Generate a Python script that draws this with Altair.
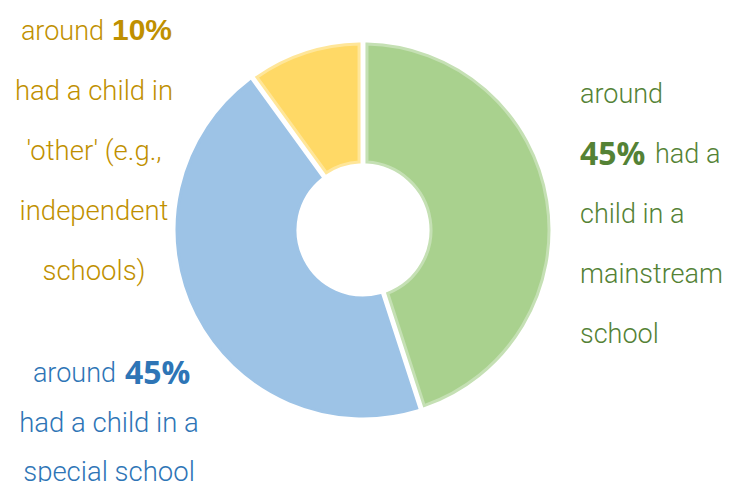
import altair as alt
import pandas as pd

# ---- data ----
categories = ["mainstream school", "special school", "other"]
values = [45, 45, 10]
fills = ["#a9d18e", "#9dc3e6", "#ffd966"]
rims = ["#c5e0b4", "#9dc3e6", "#ffe699"]

gold_lines = ["had a child in", "'other' (e.g.,", "independent", "schools)"]
green_lines = ["child in a", "mainstream", "school"]
blue_lines = ["had a child in a", "special school"]

GOLD = "#bf9000"
GREEN = "#548235"
BLUE = "#2e75b6"
FONT = "Roboto"
BOLD_FONT = "Open Sans"

df = pd.DataFrame({"category": categories, "value": values, "order": list(range(len(categories)))})

donut = alt.Chart(df).mark_arc(
    outerRadius=186, innerRadius=68, padAngle=0.04, strokeWidth=3
).encode(
    theta=alt.Theta("value:Q", stack=True),
    order=alt.Order("order:Q"),
    color=alt.Color("category:N", scale=alt.Scale(domain=categories, range=fills), legend=None),
    stroke=alt.Stroke("category:N", scale=alt.Scale(domain=categories, range=rims), legend=None),
    x=alt.value(363),
    y=alt.value(230),
)

one = pd.DataFrame({"k": [0]})


def txt(s, x, y, color, size=27, align="left", font=FONT, weight=300):
    return alt.Chart(one).mark_text(
        text=s, align=align, baseline="alphabetic", font=font, fontSize=size,
        fontWeight=weight, color=color
    ).encode(x=alt.value(x), y=alt.value(y))


layers = [donut]

# gold block (other)
layers.append(txt("around", 104, 40, GOLD, align="right"))
layers.append(txt(f"{values[2]}%", 112, 40, GOLD, size=30, font="Liberation Sans", weight="bold"))
for i, s in enumerate(gold_lines):
    layers.append(txt(s, 94, 100 + 60 * i, GOLD, align="center", size=27.5))

# green block (mainstream)
layers.append(txt("around", 580, 103, GREEN))
layers.append(txt(f"{values[0]}%", 580, 165, GREEN, size=32, font=BOLD_FONT, weight="bold"))
layers.append(txt("had a", 655, 163, GREEN))
for i, s in enumerate(green_lines):
    layers.append(txt(s, 580, 223 + 60 * i, GREEN))

# blue block (special)
layers.append(txt("around", 116, 382, BLUE, align="right"))
layers.append(txt(f"{values[1]}%", 125, 384, BLUE, size=32, font=BOLD_FONT, weight="bold"))
for i, s in enumerate(blue_lines):
    layers.append(txt(s, 109, 432 + 49 * i, BLUE, align="center", size=27.5))

chart = alt.layer(*layers).properties(
    width=729, height=482, autosize=alt.AutoSizeParams(type="none"), padding=0
).configure_view(stroke=None)

chart.save("out.html", embed_options={"renderer": "svg", "actions": False})
